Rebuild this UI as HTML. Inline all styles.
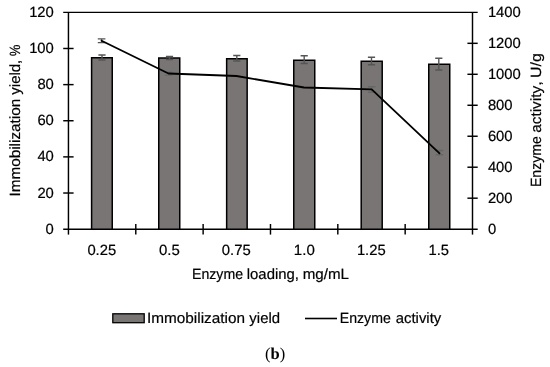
<!DOCTYPE html>
<html><head><meta charset="utf-8"><style>
html,body{margin:0;padding:0;background:#fff;width:550px;height:367px;overflow:hidden}
svg{display:block;font-family:"Liberation Sans", sans-serif;text-rendering:geometricPrecision}
</style></head><body>
<svg width="550" height="367" viewBox="0 0 550 367">
<rect width="550" height="367" fill="#fff"/>
<rect x="91.60" y="57.75" width="20.65" height="171.40" fill="#7a7575"/>
<path d="M91.60 229.15V57.75H112.25V229.15" fill="none" stroke="#000" stroke-width="1.5"/>
<rect x="158.75" y="58.00" width="21.00" height="171.15" fill="#7a7575"/>
<path d="M158.75 229.15V58.00H179.75V229.15" fill="none" stroke="#000" stroke-width="1.5"/>
<rect x="226.65" y="58.65" width="20.50" height="170.50" fill="#7a7575"/>
<path d="M226.65 229.15V58.65H247.15V229.15" fill="none" stroke="#000" stroke-width="1.5"/>
<rect x="293.75" y="60.15" width="21.00" height="169.00" fill="#7a7575"/>
<path d="M293.75 229.15V60.15H314.75V229.15" fill="none" stroke="#000" stroke-width="1.5"/>
<rect x="361.20" y="61.25" width="21.00" height="167.90" fill="#7a7575"/>
<path d="M361.20 229.15V61.25H382.20V229.15" fill="none" stroke="#000" stroke-width="1.5"/>
<rect x="428.75" y="64.25" width="21.00" height="164.90" fill="#7a7575"/>
<path d="M428.75 229.15V64.25H449.75V229.15" fill="none" stroke="#000" stroke-width="1.5"/>
<path d="M102.00 55.00V60.00M98.40 55.00H105.60M98.40 60.00H105.60" stroke="#555555" stroke-width="1.4" fill="none"/>
<path d="M169.50 56.50V59.50M165.90 56.50H173.10M165.90 59.50H173.10" stroke="#555555" stroke-width="1.4" fill="none"/>
<path d="M236.80 55.50V61.00M233.20 55.50H240.40M233.20 61.00H240.40" stroke="#555555" stroke-width="1.4" fill="none"/>
<path d="M304.20 55.80V63.50M300.60 55.80H307.80M300.60 63.50H307.80" stroke="#555555" stroke-width="1.4" fill="none"/>
<path d="M371.50 57.20V64.70M367.90 57.20H375.10M367.90 64.70H375.10" stroke="#555555" stroke-width="1.4" fill="none"/>
<path d="M438.80 58.30V70.00M435.20 58.30H442.40M435.20 70.00H442.40" stroke="#555555" stroke-width="1.4" fill="none"/>
<line x1="63.20" y1="12.35" x2="477.70" y2="12.35" stroke="#000" stroke-width="1.45"/>
<line x1="63.20" y1="229.15" x2="477.70" y2="229.15" stroke="#000" stroke-width="1.45"/>
<line x1="68.45" y1="12.35" x2="68.45" y2="234.60" stroke="#000" stroke-width="1.45"/>
<line x1="472.50" y1="12.35" x2="472.50" y2="234.60" stroke="#000" stroke-width="1.45"/>
<line x1="63.20" y1="193.02" x2="73.60" y2="193.02" stroke="#000" stroke-width="1.45"/>
<line x1="63.20" y1="156.88" x2="73.60" y2="156.88" stroke="#000" stroke-width="1.45"/>
<line x1="63.20" y1="120.75" x2="73.60" y2="120.75" stroke="#000" stroke-width="1.45"/>
<line x1="63.20" y1="84.62" x2="73.60" y2="84.62" stroke="#000" stroke-width="1.45"/>
<line x1="63.20" y1="48.48" x2="73.60" y2="48.48" stroke="#000" stroke-width="1.45"/>
<line x1="467.40" y1="198.18" x2="477.70" y2="198.18" stroke="#000" stroke-width="1.45"/>
<line x1="467.40" y1="167.21" x2="477.70" y2="167.21" stroke="#000" stroke-width="1.45"/>
<line x1="467.40" y1="136.24" x2="477.70" y2="136.24" stroke="#000" stroke-width="1.45"/>
<line x1="467.40" y1="105.26" x2="477.70" y2="105.26" stroke="#000" stroke-width="1.45"/>
<line x1="467.40" y1="74.29" x2="477.70" y2="74.29" stroke="#000" stroke-width="1.45"/>
<line x1="467.40" y1="43.32" x2="477.70" y2="43.32" stroke="#000" stroke-width="1.45"/>
<line x1="135.79" y1="224.00" x2="135.79" y2="234.60" stroke="#000" stroke-width="1.45"/>
<line x1="203.13" y1="224.00" x2="203.13" y2="234.60" stroke="#000" stroke-width="1.45"/>
<line x1="270.48" y1="224.00" x2="270.48" y2="234.60" stroke="#000" stroke-width="1.45"/>
<line x1="337.82" y1="224.00" x2="337.82" y2="234.60" stroke="#000" stroke-width="1.45"/>
<line x1="405.16" y1="224.00" x2="405.16" y2="234.60" stroke="#000" stroke-width="1.45"/>
<path d="M101.60 38.90V42.60M97.80 38.90H105.40M97.80 42.60H105.40" stroke="#555555" stroke-width="1.4" fill="none"/>
<path d="M168.50 72.20V75.20M164.70 72.20H172.30M164.70 75.20H172.30" stroke="#6a6a6a" stroke-width="1.4" fill="none"/>
<path d="M371.70 86.80V92.30M367.90 86.80H375.50M367.90 92.30H375.50" stroke="#666" stroke-width="1.4" fill="none"/>
<path d="M439.50 150.50V154.70M435.70 150.50H443.30M435.70 154.70H443.30" stroke="#666" stroke-width="1.4" fill="none"/>
<path d="M101.60 40.70 L168.50 73.50 L236.50 76.00 L304.00 87.50 L371.70 89.30 L439.50 153.30" stroke="#000" stroke-width="1.8" fill="none" stroke-linejoin="round" stroke-linecap="round"/>
<rect x="112.8" y="313.8" width="31.4" height="8.9" fill="#7a7575" stroke="#000" stroke-width="1.3"/>
<line x1="305.00" y1="318.50" x2="337.00" y2="318.50" stroke="#000" stroke-width="1.6"/>
<g fill="#000" stroke="#000" stroke-width="0.2" style="filter:grayscale(1)"><text x="53.85" y="233.65" text-anchor="end" font-size="14.8" >0</text>
<text x="53.85" y="197.52" text-anchor="end" font-size="14.8" >20</text>
<text x="53.85" y="161.38" text-anchor="end" font-size="14.8" >40</text>
<text x="53.85" y="125.25" text-anchor="end" font-size="14.8" >60</text>
<text x="53.85" y="89.12" text-anchor="end" font-size="14.8" >80</text>
<text x="53.85" y="52.98" text-anchor="end" font-size="14.8" >100</text>
<text x="53.85" y="16.85" text-anchor="end" font-size="14.8" >120</text>
<text x="487.90" y="233.65" text-anchor="start" font-size="14.8" >0</text>
<text x="487.90" y="202.68" text-anchor="start" font-size="14.8" >200</text>
<text x="487.90" y="171.71" text-anchor="start" font-size="14.8" >400</text>
<text x="487.90" y="140.74" text-anchor="start" font-size="14.8" >600</text>
<text x="487.90" y="109.76" text-anchor="start" font-size="14.8" >800</text>
<text x="487.90" y="78.79" text-anchor="start" font-size="14.8" >1000</text>
<text x="487.90" y="47.82" text-anchor="start" font-size="14.8" >1200</text>
<text x="487.90" y="16.85" text-anchor="start" font-size="14.8" >1400</text>
<text x="87.38" y="255.10" font-size="14.8" textLength="28.81" lengthAdjust="spacingAndGlyphs">0.25</text>
<text x="158.97" y="255.10" font-size="14.8" textLength="20.82" lengthAdjust="spacingAndGlyphs">0.5</text>
<text x="221.77" y="255.10" font-size="14.8" textLength="28.92" lengthAdjust="spacingAndGlyphs">0.75</text>
<text x="293.86" y="255.10" font-size="14.8" textLength="20.93" lengthAdjust="spacingAndGlyphs">1.0</text>
<text x="356.88" y="255.10" font-size="14.8" textLength="28.81" lengthAdjust="spacingAndGlyphs">1.25</text>
<text x="428.48" y="255.10" font-size="14.8" textLength="20.50" lengthAdjust="spacingAndGlyphs">1.5</text>
<text x="192.01" y="279.00" font-size="14.8" textLength="51.07" lengthAdjust="spacingAndGlyphs">Enzyme</text>
<text x="246.79" y="279.00" font-size="14.8" textLength="52.16" lengthAdjust="spacingAndGlyphs">loading,</text>
<text x="302.68" y="279.00" font-size="14.8" textLength="46.32" lengthAdjust="spacingAndGlyphs">mg/mL</text>
<text transform="translate(19.90,196.62) rotate(-90) scale(1.0352,1)" x="0" y="0" font-size="14.8">Immobilization</text>
<text transform="translate(19.90,94.63) rotate(-90) scale(1.0111,1)" x="0" y="0" font-size="14.8">yield</text>
<text transform="translate(19.90,64.06) rotate(-90) scale(1.0000,1)" x="0" y="0" font-size="14.8">,</text>
<text transform="translate(19.90,56.24) rotate(-90) scale(0.8825,1)" x="0" y="0" font-size="14.8">%</text>
<text transform="translate(540.80,187.09) rotate(-90) scale(0.9553,1)" x="0" y="0" font-size="14.8">Enzyme</text>
<text transform="translate(540.80,132.75) rotate(-90) scale(1.0360,1)" x="0" y="0" font-size="14.8">activity</text>
<text transform="translate(540.80,85.61) rotate(-90) scale(1.0000,1)" x="0" y="0" font-size="14.8">,</text>
<text transform="translate(540.80,77.91) rotate(-90) scale(1.0762,1)" x="0" y="0" font-size="14.8">U/g</text>
<text x="146.98" y="323.00" font-size="14.8" textLength="98.01" lengthAdjust="spacingAndGlyphs">Immobilization</text>
<text x="249.37" y="323.00" font-size="14.8" textLength="30.67" lengthAdjust="spacingAndGlyphs">yield</text>
<text x="339.71" y="323.00" font-size="14.8" textLength="51.07" lengthAdjust="spacingAndGlyphs">Enzyme</text>
<text x="395.77" y="323.00" font-size="14.8" textLength="45.44" lengthAdjust="spacingAndGlyphs">activity</text>
<text x="265" y="359.1" stroke="none" font-family="'Liberation Serif', serif" font-size="16.5">(<tspan font-weight="bold">b</tspan>)</text></g>
</svg>
</body></html>
